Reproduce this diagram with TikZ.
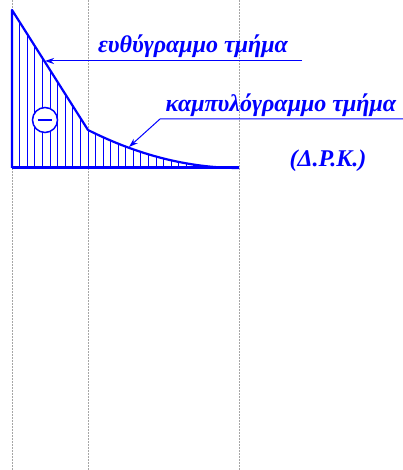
\documentclass[tikz,border=0pt]{standalone}
\usepackage{fontspec}
\setmainfont{Liberation Serif}
\usetikzlibrary{arrows.meta}

\begin{document}
\begin{tikzpicture}[
    x=1pt, y=-1pt,
    every node/.style={font=\fontsize{24}{28}\selectfont\bfseries\itshape, text=blue, inner sep=0pt},
    guide/.style={gray!70, dash pattern=on 2pt off 1pt, line width=0.6pt},
    outline/.style={blue, line width=2.2pt, line join=round},
    hatch/.style={blue, line width=0.8pt},
    arr/.style={blue, line width=1pt, -{Stealth[length=9pt, width=6pt]}}
]
\useasboundingbox (0,0) rectangle (403,470);

% guide lines
\foreach \gx in {12, 88, 239}
  \draw[guide] (\gx,0) -- (\gx,470);

% hatching
\foreach \k in {1,...,10}
  \draw[hatch] ({12+7.6*\k},168) -- ({12+7.6*\k},{10+12*\k});
\foreach \k in {1,...,20}
  \draw[hatch] ({88+151*\k/20},168) -- ({88+151*\k/20},{168-38*(1-\k/20)^2});

% diagram outline
\draw[outline] (12,168) -- (12,10) -- (88,130)
  .. controls (138.3,155.3) and (188.7,168) .. (239,168);
\draw[blue, line width=3pt] (12,168) -- (239,168);

% sign
\node[circle, draw=blue, fill=white, line width=1.5pt, minimum size=25pt] (sign) at (45,120) {};
\draw[blue, line width=2.5pt] ([xshift=-7pt]sign.center) -- ([xshift=7pt]sign.center);

% labels
\node[anchor=base] (lin) at (193,53) {ευθύγραμμο τμήμα};
\node[anchor=base] (curv) at (281,112) {καμπυλόγραμμο τμήμα};
\node[anchor=base] (drk) at (328,167) {(Δ.Ρ.Κ.)};

\coordinate (linR) at (302,61);
\coordinate (linT) at (45,61);
\coordinate (curvR) at (403,119);
\coordinate (curvK) at (160,119);
\coordinate (curvT) at (129,147);

\draw[arr] (linR) -- (linT);
\draw[arr] (curvR) -- (curvK) -- (curvT);
\end{tikzpicture}
\end{document}
